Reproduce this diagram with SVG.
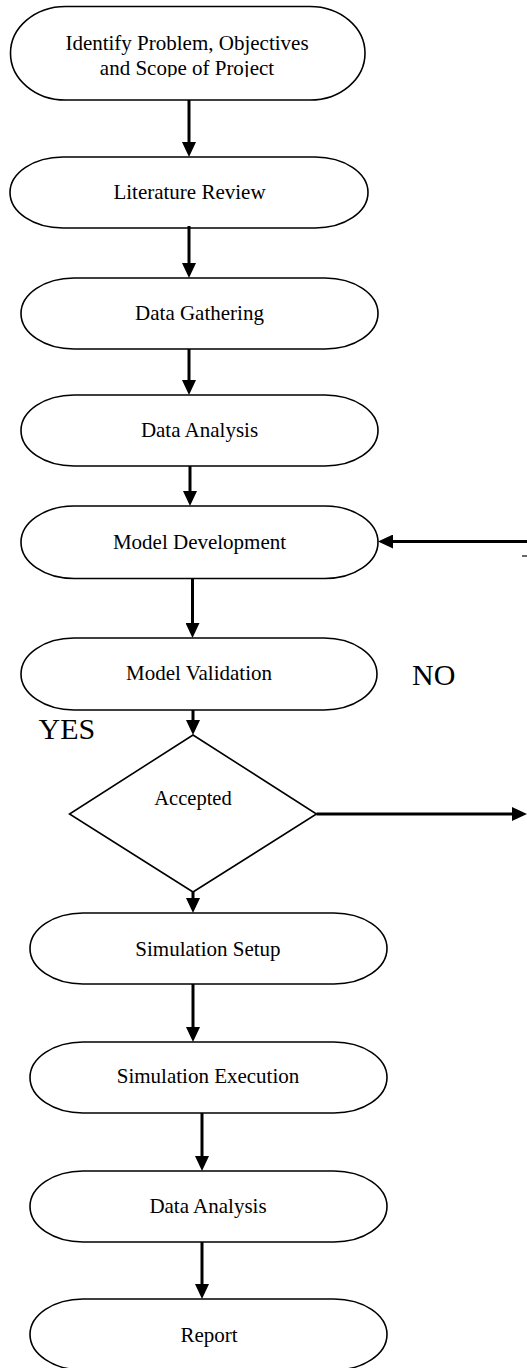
<svg xmlns="http://www.w3.org/2000/svg" width="527" height="1368" viewBox="0 0 527 1368">
  <style>
    .term { fill: #ffffff; stroke: #000000; stroke-width: 1.6; }
    .dec { fill: #ffffff; stroke: #000000; stroke-width: 1.6; }
    .lbl { font-family: "Liberation Serif", "Times New Roman", serif; font-size: 21px; fill: #000000; text-anchor: middle; }
    .big { font-family: "Liberation Serif", "Times New Roman", serif; font-size: 30px; fill: #000000; }
    .flow { fill: none; stroke: #000000; stroke-width: 3; marker-end: url(#head); }
  </style>
  <defs>
    <marker id="head" markerUnits="userSpaceOnUse" markerWidth="15" markerHeight="14" refX="5" refY="7" orient="auto">
      <path d="M0,0 L15,7 L0,14 Z" fill="#000000"/>
    </marker>
    <clipPath id="topClip">
      <rect x="10" y="20" width="355" height="57"/>
    </clipPath>
  </defs>
  <rect width="527" height="1368" fill="#ffffff"/>

  <!-- process steps -->
  <g id="identify">
    <rect class="term" x="10.5" y="6.5" width="354.5" height="93.5" rx="55" ry="46.75"/>
    <g clip-path="url(#topClip)">
      <text class="lbl" x="187" y="49.5">Identify Problem, Objectives</text>
      <text class="lbl" x="187" y="74.8">and Scope of Project</text>
    </g>
  </g>
  <g id="literature">
    <rect class="term" x="10" y="157" width="358" height="71" rx="53" ry="35.5"/>
    <text class="lbl" x="189.5" y="199">Literature Review</text>
  </g>
  <g id="gathering">
    <rect class="term" x="21" y="278" width="357" height="71" rx="53" ry="35.5"/>
    <text class="lbl" x="199.5" y="320">Data Gathering</text>
  </g>
  <g id="analysis1">
    <rect class="term" x="21" y="395" width="357" height="71" rx="53" ry="35.5"/>
    <text class="lbl" x="199.5" y="437">Data Analysis</text>
  </g>
  <g id="development">
    <rect class="term" x="21" y="506" width="357" height="72.5" rx="53" ry="36.25"/>
    <text class="lbl" x="199.5" y="549">Model Development</text>
  </g>
  <g id="validation">
    <rect class="term" x="21" y="638" width="356" height="72" rx="53" ry="36"/>
    <text class="lbl" x="199" y="680">Model Validation</text>
  </g>
  <g id="accepted">
    <polygon class="dec" points="193,735 316.5,814 193,892 69.5,814"/>
    <text class="lbl" x="193" y="805" style="font-size:20.5px">Accepted</text>
  </g>
  <g id="setup">
    <rect class="term" x="30" y="913" width="357" height="71" rx="53" ry="35.5"/>
    <text class="lbl" x="208" y="956">Simulation Setup</text>
  </g>
  <g id="execution">
    <rect class="term" x="30" y="1042" width="357" height="71" rx="53" ry="35.5"/>
    <text class="lbl" x="208" y="1083">Simulation Execution</text>
  </g>
  <g id="analysis2">
    <rect class="term" x="30" y="1171" width="357" height="71" rx="53" ry="35.5"/>
    <text class="lbl" x="208" y="1213">Data Analysis</text>
  </g>
  <g id="report">
    <rect class="term" x="30" y="1299" width="357" height="71" rx="53" ry="35.5"/>
    <text class="lbl" x="209" y="1342">Report</text>
  </g>

  <!-- branch labels -->
  <g id="branch-labels">
    <text class="big" x="412" y="685">NO</text>
    <text class="big" x="38.5" y="738.7">YES</text>
  </g>

  <!-- connectors -->
  <g id="connectors">
    <line class="flow" x1="189" y1="100" x2="189" y2="147"/>
    <line class="flow" x1="189" y1="226" x2="189" y2="268"/>
    <line class="flow" x1="189" y1="349" x2="189" y2="385"/>
    <line class="flow" x1="190" y1="466" x2="190" y2="496"/>
    <line class="flow" x1="192.5" y1="578.5" x2="192.5" y2="628"/>
    <line class="flow" x1="193" y1="710" x2="193" y2="725"/>
    <line class="flow" x1="316.5" y1="814" x2="517" y2="814"/>
    <line class="flow" x1="530" y1="541.5" x2="388" y2="541.5"/>
    <line class="flow" x1="193" y1="892" x2="193" y2="903"/>
    <line class="flow" x1="193" y1="984" x2="193" y2="1032"/>
    <line class="flow" x1="202" y1="1113" x2="202" y2="1161"/>
    <line class="flow" x1="202" y1="1242" x2="202" y2="1289"/>
    <line x1="522" y1="556" x2="527" y2="556" stroke="#000000" stroke-width="1.2"/>
  </g>
</svg>
